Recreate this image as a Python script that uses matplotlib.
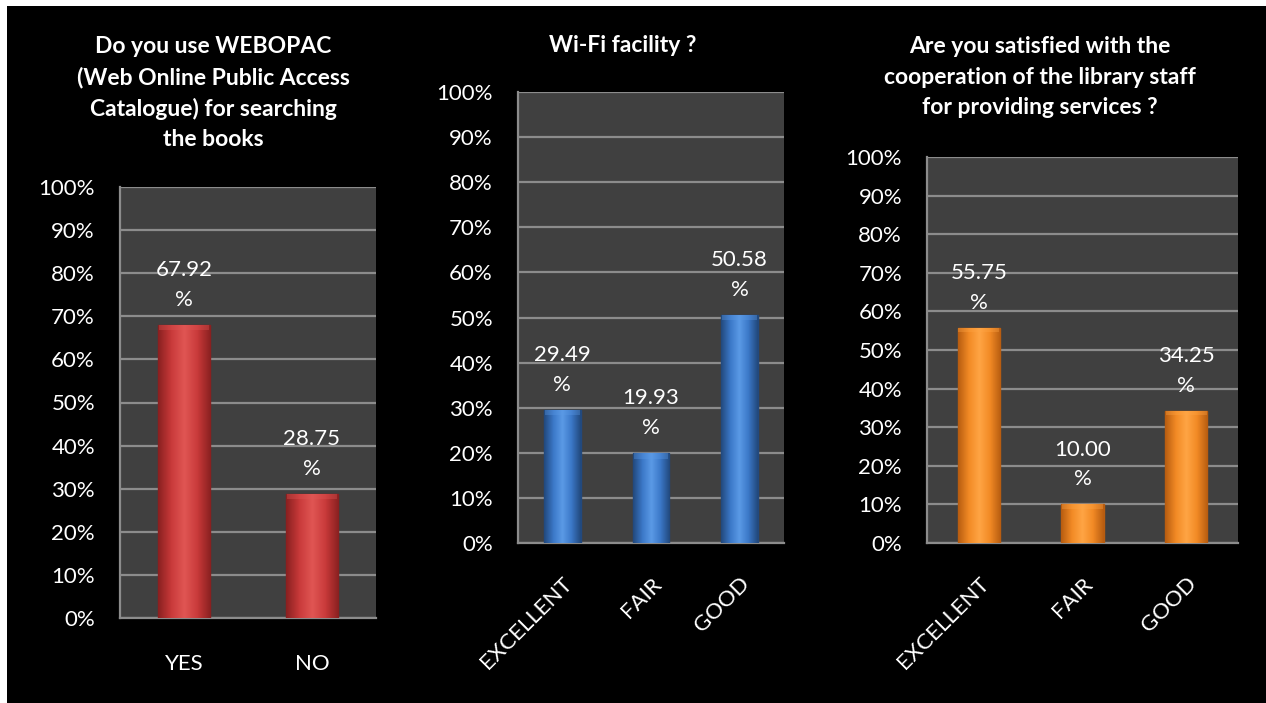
import numpy as np
import matplotlib
matplotlib.use("Agg")
import matplotlib.pyplot as plt
from matplotlib.colors import LinearSegmentedColormap
from matplotlib.patches import Rectangle

plt.rcParams['font.family'] = ['Lato', 'DejaVu Sans']

# --- data ---
titles = [
    "Do you use WEBOPAC\n(Web Online Public Access\nCatalogue) for searching\nthe books",
    "Wi-Fi facility ?",
    "Are you satisfied with the\ncooperation of the library staff\nfor providing services ?",
]
cats_webopac = ["YES", "NO"]
vals_webopac = [67.92, 28.75]
cats_wifi = ["EXCELLENT", "FAIR", "GOOD"]
vals_wifi = [29.49, 19.93, 50.58]
cats_staff = ["EXCELLENT", "FAIR", "GOOD"]
vals_staff = [55.75, 10.00, 34.25]
yticks = [0, 10, 20, 30, 40, 50, 60, 70, 80, 90, 100]
ytick_labels = [f"{t}%" for t in yticks]

W, H = 1266, 703
fig = plt.figure(figsize=(W / 100, H / 100), dpi=100)
fig.patch.set_facecolor('white')
# black slide area (white margin top/left)
fig.patches.append(Rectangle((7 / W, 0), 1, (H - 6) / H, transform=fig.transFigure,
                             facecolor='black', edgecolor='none', zorder=-10))


def px_axes(left, top, right, bottom):
    ax = fig.add_axes([left / W, (H - bottom) / H, (right - left) / W, (bottom - top) / H])
    ax.set_zorder(5)
    return ax


def gradient_bar(ax, x, h, width, base, dark, light):
    cmap = LinearSegmentedColormap.from_list('g', [dark, base, light, base, dark])
    grad = np.linspace(0, 1, 64).reshape(1, -1)
    bar = ax.bar(x, h, width=width, color=base, edgecolor=dark, linewidth=1.0, zorder=3)[0]
    im = ax.imshow(grad, cmap=cmap, aspect='auto', zorder=3.5,
                   extent=[x - width / 2, x + width / 2, 0, h])
    im.set_clip_path(bar)
    # subtle light bevel along the top of the bar
    ax.bar(x, 1.2, bottom=h - 1.2, width=width * 0.96, color=light, alpha=0.35,
           edgecolor='none', zorder=4)


def draw_panel(ax, cats, vals, colors, rotate):
    ax.set_facecolor('#404040')
    x = np.arange(len(cats))
    for xi, v in zip(x, vals):
        gradient_bar(ax, xi, v, 0.41, *colors)
        ax.annotate(f"{v:.2f}\n%", (xi, v), xytext=(0, 11), textcoords='offset points',
                    ha='center', va='bottom', color='white', fontsize=16,
                    linespacing=1.6, zorder=5)
    ax.set_xlim(-0.5, len(cats) - 0.5)
    ax.set_ylim(0, 100)
    ax.set_yticks(yticks)
    ax.set_yticklabels(ytick_labels)
    ax.yaxis.grid(True, color='#8c8c8c', linewidth=1.6, zorder=1)
    ax.set_axisbelow(True)
    for s in ['top', 'right']:
        ax.spines[s].set_visible(False)
    for s in ['left', 'bottom']:
        ax.spines[s].set_color('#8c8c8c')
        ax.spines[s].set_linewidth(1.6)
    ax.tick_params(axis='y', length=0, pad=18, colors='white', labelsize=16)
    ax.set_xticks(x)
    if rotate:
        ax.set_xticklabels(cats, rotation=45, ha='right', rotation_mode='anchor')
        ax.tick_params(axis='x', length=0, pad=22, colors='white', labelsize=16)
    else:
        ax.set_xticklabels(cats)
        ax.tick_params(axis='x', length=0, pad=26, colors='white', labelsize=16)


red = ('#c93a3a', '#8a2020', '#e05654')
blue = ('#3b78c8', '#22497e', '#5b9ae6')
orange = ('#f28a25', '#b85d10', '#ffa545')

ax1 = px_axes(120, 187, 376, 618)
draw_panel(ax1, cats_webopac, vals_webopac, red, False)
ax2 = px_axes(518, 92, 784, 543)
draw_panel(ax2, cats_wifi, vals_wifi, blue, True)
ax3 = px_axes(927, 157, 1238, 543)
draw_panel(ax3, cats_staff, vals_staff, orange, True)

title_pos = [(213, 93), (623, 45), (1040, 77)]
for t, (tx, ty) in zip(titles, title_pos):
    fig.text(tx / W, 1 - ty / H, t, ha='center', va='center', color='white',
             fontsize=16.5, fontweight='bold', linespacing=1.55)

fig.savefig('out.png', dpi=100, facecolor=fig.get_facecolor())
